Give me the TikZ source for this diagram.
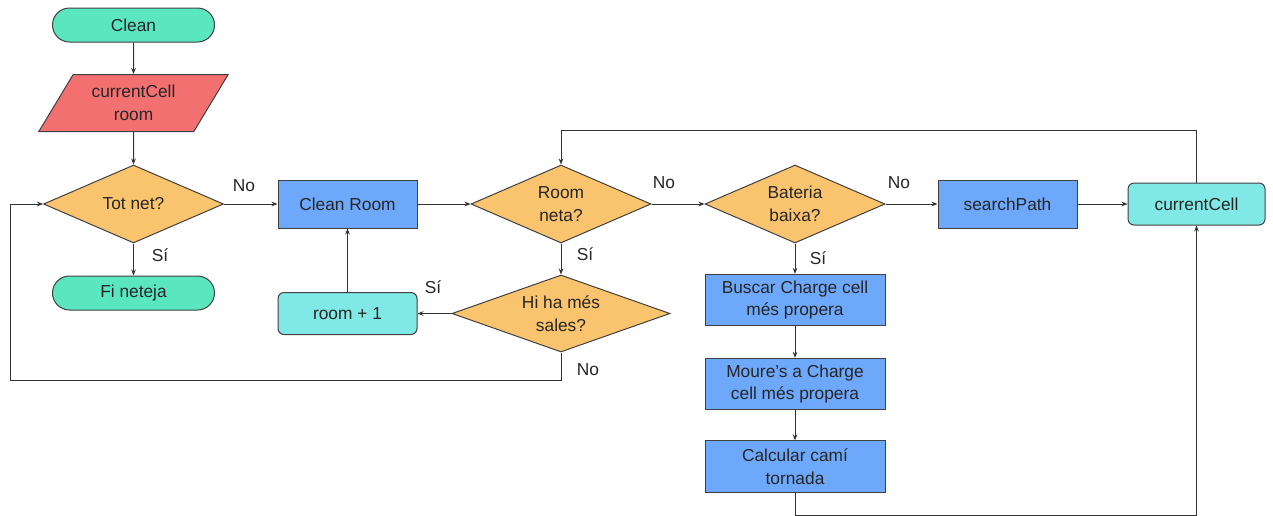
\documentclass[tikz,border=0pt]{standalone}
\usepackage{fontspec}
\setmainfont{Liberation Sans}
\usetikzlibrary{shapes.geometric,shapes.misc,arrows.meta}

\definecolor{termgreen}{RGB}{90,231,192}
\definecolor{inred}{RGB}{243,112,112}
\definecolor{decorange}{RGB}{250,196,110}
\definecolor{procblue}{RGB}{110,168,250}
\definecolor{stepcyan}{RGB}{128,233,230}

\begin{document}
\begin{tikzpicture}[x=0.75pt,y=0.75pt,yscale=-1,xscale=1,
  every node/.style={font=\fontsize{13}{17}\selectfont, text=black!85, align=center},
  base/.style={draw=black!75, line width=0.75pt, inner sep=0pt},
  term/.style={base, rounded rectangle, fill=termgreen, minimum width=121.5pt, minimum height=25.5pt},
  inbox/.style={base, trapezium, trapezium left angle=56, trapezium right angle=124, trapezium stretches=true, fill=inred, minimum width=142.5pt, minimum height=42.75pt},
  decision/.style={base, diamond, aspect=2.3, fill=decorange, minimum width=135pt, minimum height=58.5pt},
  procbox/.style={base, rectangle, fill=procblue, minimum width=104.25pt, minimum height=36pt},
  bigproc/.style={base, rectangle, fill=procblue, minimum width=135pt, minimum height=38.5pt},
  roundbox/.style={base, rectangle, rounded corners=4.5pt, fill=stepcyan, minimum width=104.25pt, minimum height=31.5pt},
  link/.style={draw=black!80, line width=0.75pt, -{Stealth[length=4.5pt,width=3.5pt]}},
]
\useasboundingbox (0,0) rectangle (1273,515);

%Shape: Terminal
\node [term] (clean) at (133.5,25) {Clean};
%Shape: Parallelogram
\node [inbox] (input) at (133.5,103) {currentCell\\room};
%Shape: Diamond
\node [decision] (totnet) at (133.5,204) {Tot net?};
%Shape: Terminal
\node [term] (fi) at (133.5,293) {Fi neteja};
%Shape: Rectangle
\node [procbox] (cleanroom) at (347.5,204) {Clean Room};
%Shape: Diamond
\node [decision] (roomneta) at (561,204) {Room\\neta?};
%Shape: Diamond
\node [decision, minimum width=163.5pt, minimum height=57.75pt] (sales) at (561,313.5) {Hi ha més\\sales?};
%Shape: Rounded Rect
\node [roundbox] (roomplus) at (347.5,313.5) {room + 1};
%Shape: Diamond
\node [decision] (bateria) at (795,204) {Bateria\\baixa?};
%Shape: Rectangle
\node [bigproc] (buscar) at (795,300) {Buscar Charge cell\\més propera};
%Shape: Rectangle
\node [bigproc] (moure) at (795,384) {Moure's a Charge\\cell més propera};
%Shape: Rectangle
\node [bigproc] (calcular) at (795,466.5) {Calcular camí\\tornada};
%Shape: Rectangle
\node [procbox] (search) at (1007.5,204) {searchPath};
%Shape: Rounded Rect
\node [roundbox, minimum width=102.75pt] (curcell) at (1196.5,204) {currentCell};

%Corners of the loops
\coordinate (lowL) at (10,380);
\coordinate (topR) at (1196.5,130);
\coordinate (botR) at (1196.5,515.6);

%Straight Lines
\draw [link] (clean) -- (input);
\draw [link] (input) -- (totnet);
\draw [link] (totnet.east) -- (cleanroom.west);
\draw [link] (totnet.south) -- (fi.north);
\draw [link] (cleanroom.east) -- (roomneta.west);
\draw [link] (roomneta.east) -- (bateria.west);
\draw [link] (roomneta.south) -- (sales.north);
\draw [link] (sales.west) -- (roomplus.east);
\draw [link] (roomplus.north) -- (cleanroom.south);
\draw [link] (sales.south) |- (lowL) |- (totnet.west);
\draw [link] (bateria.east) -- (search.west);
\draw [link] (bateria.south) -- (buscar.north);
\draw [link] (buscar) -- (moure);
\draw [link] (moure) -- (calcular);
\draw [link] (search.east) -- (curcell.west);
\draw [link] (curcell.north) -- (topR) -| (roomneta.north);
\draw [link] (calcular.south) |- (botR) -- (curcell.south);

% Text Node
\node (no1) at (244,186) {No};
% Text Node
\node (si1) at (160,255) {Sí};
% Text Node
\node (no2) at (664,183) {No};
% Text Node
\node (si2) at (585,254) {Sí};
% Text Node
\node (si3) at (433,287) {Sí};
% Text Node
\node (no3) at (588,370) {No};
% Text Node
\node (no4) at (899,183) {No};
% Text Node
\node (si4) at (818,258) {Sí};

\end{tikzpicture}
\end{document}
